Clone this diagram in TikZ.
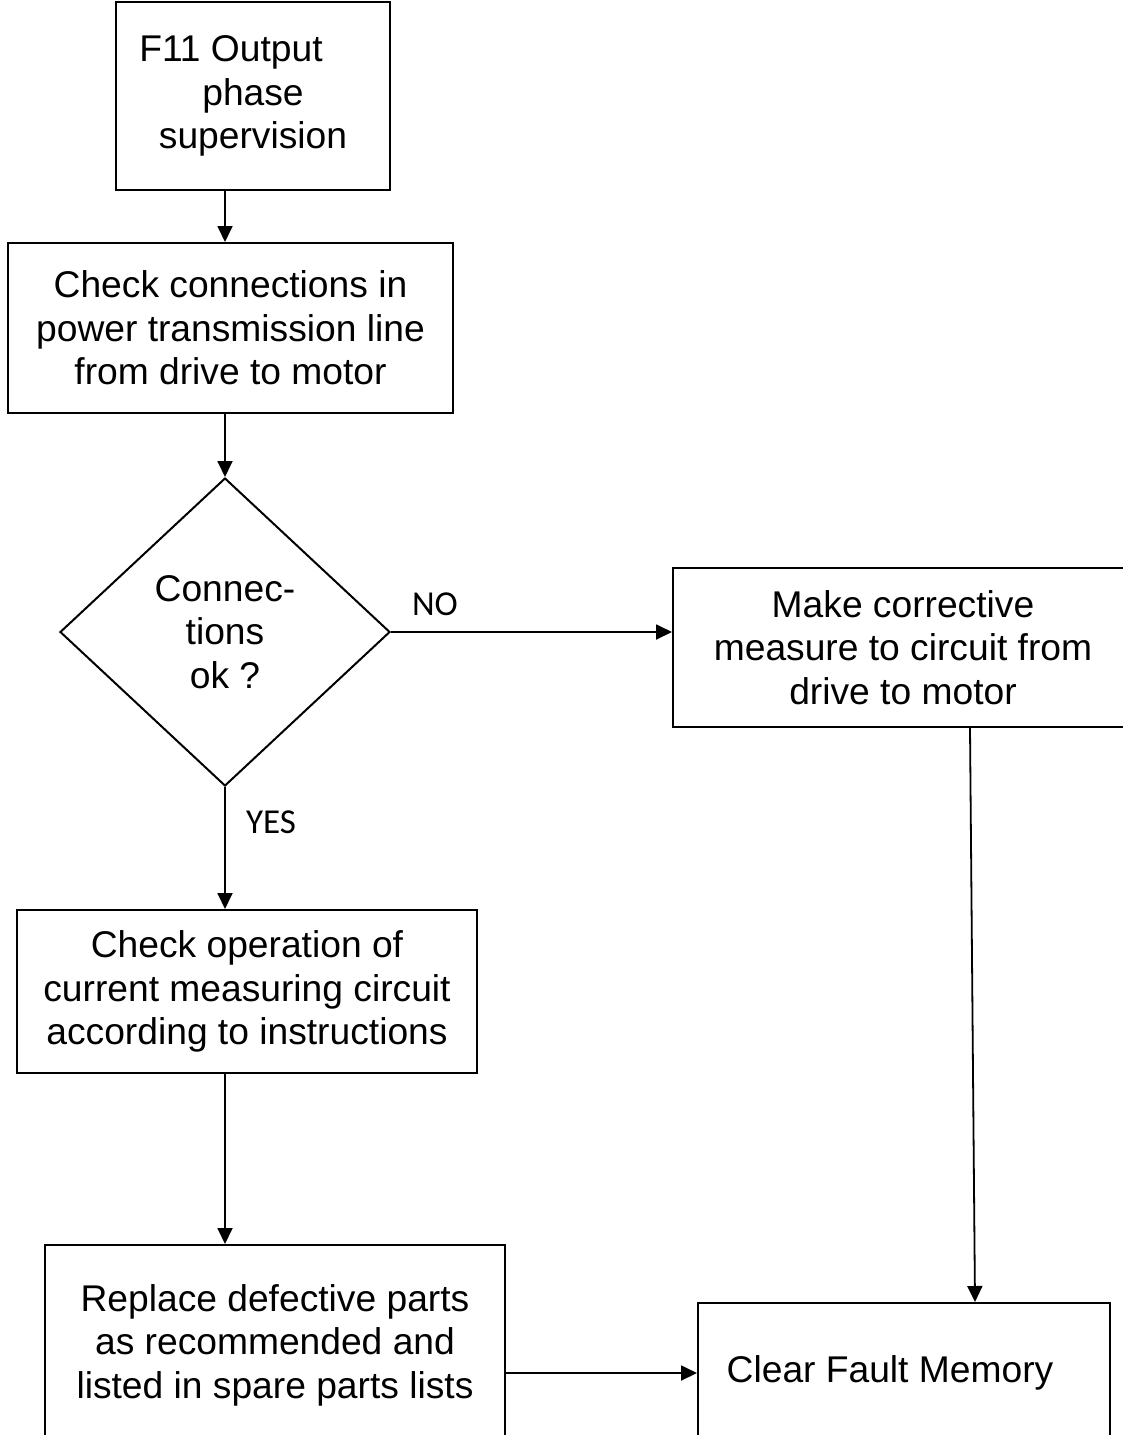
\documentclass[tikz,border=0pt]{standalone}
\usepackage{fontspec}
\setmainfont{Liberation Sans}
\newfontfamily\lblfont{Carlito}
\usetikzlibrary{shapes.geometric, arrows.meta}

\tikzset{
    stepbox/.style={rectangle, draw, line width=1pt, inner sep=0pt, align=center,
        font=\fontsize{18.6}{21.7}\selectfont},
    decision/.style={diamond, draw, line width=1pt, inner sep=0pt, align=center,
        minimum width=165pt, minimum height=154pt, font=\fontsize{18.6}{21.7}\selectfont},
    arr/.style={-{Triangle[length=8pt, width=7.5pt]}, line width=0.9pt},
    answer/.style={font=\lblfont\fontsize{17.5}{20}\selectfont}
}

\begin{document}
\begin{tikzpicture}[x=0.5pt, y=-0.5pt]
        \useasboundingbox (0, 0) rectangle (1123, 1435);
        \clip (0, 0) rectangle (1123, 1435);

        \node[stepbox, minimum width=137pt, minimum height=94pt] (b1) at (253, 96)
            {F11 Output\hspace*{22pt}\\phase\\supervision};
        \node[stepbox, minimum width=222.5pt, minimum height=85pt] (b2) at (230.5, 328)
            {Check connections in\\power transmission line\\from drive to motor};
        \node[decision] (d) at (225, 632) {Connec-\\tions\\ok ?};
        \node[stepbox, minimum width=230pt, minimum height=79.5pt] (b3) at (903, 647.5)
            {Make corrective\\measure to circuit from\\drive to motor};
        \node[stepbox, minimum width=230pt, minimum height=81.5pt] (b4) at (247, 991.5)
            {Check operation of\\current measuring circuit\\according to instructions};
        \node[stepbox, minimum width=230pt, minimum height=100pt] (b5) at (275, 1345)
            {Replace defective parts\\as recommended and\\listed in spare parts lists};
        \node[stepbox, minimum width=206pt, minimum height=70pt] (b6) at (904, 1373)
            {Clear Fault Memory\hspace*{14pt}};

        \node[answer] (no) at (435, 604) {NO};
        \node[answer] (yes) at (271, 822) {YES};

        \draw[arr] (b1.south -| d) to (b2.north -| d);
        \draw[arr] (b2.south -| d) to (d.north);
        \draw[arr] (d.east) to (d.east -| b3.west);
        \draw[arr] (d.south) to (b4.north -| d);
        \draw[arr] (b4.south -| d) to (b5.north -| d);
        \draw[arr] (b5.east |- b6) to (b6.west);
        \draw[arr] ([xshift=33.5pt]b3.south) to ([xshift=35.5pt]b6.north);
    \end{tikzpicture}
\end{document}
